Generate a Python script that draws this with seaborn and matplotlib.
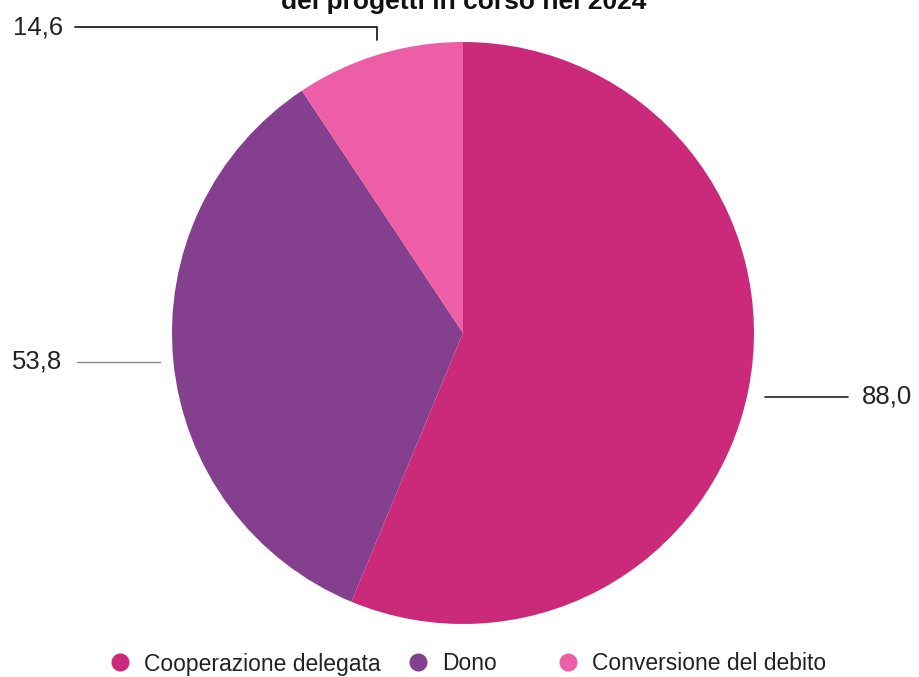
import matplotlib
matplotlib.use("Agg")
import matplotlib.pyplot as plt
from matplotlib.lines import Line2D
from matplotlib.legend import Legend
import seaborn as sns

categories = ["Cooperazione delegata", "Dono", "Conversione del debito"]
values = [88.0, 53.8, 14.6]
value_labels = ["88,0", "53,8", "14,6"]
colors_hex = ["#CB2A7B", "#84408E", "#EE5EA6"]
title_visible = "dei progetti in corso nel 2024"

sns.set_theme(style="white")
plt.rcParams['font.family'] = ['Liberation Sans', 'DejaVu Sans']
palette = sns.color_palette(colors_hex)

W, H = 920, 677
fig = plt.figure(figsize=(W / 100, H / 100), dpi=100)
ax = fig.add_axes([0, 0, 1, 1])

def Y(py):
    return H - py

cx, cy, r = 463, 333, 291
ax.pie(values, colors=palette, startangle=90, counterclock=False,
       center=(cx, Y(cy)), radius=r, frame=True,
       wedgeprops=dict(linewidth=0))
ax.set_xlim(0, W)
ax.set_ylim(0, H)
ax.axis("off")

# title (partly cut off at top, as in the reference)
ax.text(464, Y(9), title_visible, ha="center", va="baseline",
        fontsize=19, fontweight="bold", color="#111111")

lab_fs = 18.5
# Cooperazione delegata
ax.plot([765, 848], [Y(397), Y(397)], color="#222222", lw=1.2)
ax.text(862, Y(397), value_labels[0], ha="left", va="center", fontsize=lab_fs, color="#222222")
# Dono
ax.plot([77, 160], [Y(362), Y(362)], color="#888888", lw=1.0)
ax.text(62, Y(362), value_labels[1], ha="right", va="center", fontsize=lab_fs, color="#222222")
# Conversione del debito
ax.plot([75, 377, 377], [Y(27), Y(27), Y(40)], color="#222222", lw=1.3)
ax.text(63, Y(27), value_labels[2], ha="right", va="center", fontsize=lab_fs, color="#222222")

# legend: one entry per legend box, placed at the reference marker positions
marker_x = [120, 418, 568]
for cat, col, mx in zip(categories, palette, marker_x):
    h = Line2D([0], [0], marker="o", linestyle="", markersize=13,
               markerfacecolor=col, markeredgewidth=0)
    leg = Legend(ax, [h], [cat], loc="center left",
                 bbox_to_anchor=((mx - 11.5) / W, 1 - 664 / H),
                 frameon=False, fontsize=16.5, handletextpad=0.55,
                 handlelength=1.0, borderaxespad=0, borderpad=0,
                 labelcolor="#222222")
    ax.add_artist(leg)

fig.savefig("out.png", dpi=100)
